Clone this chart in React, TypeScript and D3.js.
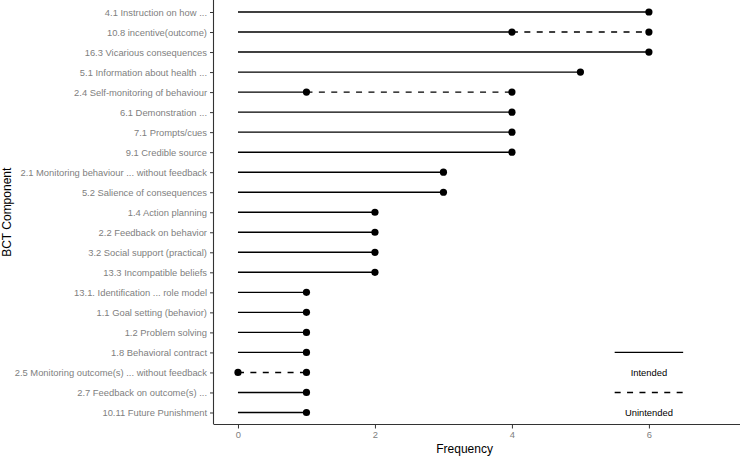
import React, { useEffect, useRef } from "react";
import * as d3 from "d3";

// categories top to bottom
const categories = [
  "4.1 Instruction on how ...",
  "10.8 incentive(outcome)",
  "16.3 Vicarious consequences",
  "5.1 Information about health ...",
  "2.4 Self-monitoring of behaviour",
  "6.1 Demonstration ...",
  "7.1 Prompts/cues",
  "9.1 Credible source",
  "2.1 Monitoring behaviour ... without feedback",
  "5.2 Salience of consequences",
  "1.4 Action planning",
  "2.2 Feedback on behavior",
  "3.2 Social support (practical)",
  "13.3 Incompatible beliefs",
  "13.1. Identification ... role model",
  "1.1 Goal setting (behavior)",
  "1.2 Problem solving",
  "1.8 Behavioral contract",
  "2.5 Monitoring outcome(s) ... without feedback",
  "2.7 Feedback on outcome(s) ... ",
  "10.11 Future Punishment",
];

// intended frequency (solid from 0)
const intended = [6, 4, 6, 5, 1, 4, 4, 4, 3, 3, 2, 2, 2, 2, 1, 1, 1, 1, 0, 1, 1];
// total incl. unintended (dashed from intended), null when none
const withUnintended: (number | null)[] = [
  null, 6, null, null, 4, null, null, null, null, null, null,
  null, null, null, null, null, null, null, 1, null, null,
];

const xTicks = [0, 2, 4, 6];

const App: React.FC = () => {
  const svgRef = useRef<SVGSVGElement | null>(null);
  const width = 740;
  const height = 457;

  useEffect(() => {
    const svg = d3.select(svgRef.current);
    svg.selectAll("*").remove();

    const left = 214;
    const right = 740;
    const top = 0;
    const bottom = 424.5;
    const font = "'Liberation Sans', Arial, sans-serif";
    const dash = "6,6.4";

    const x = d3.scaleLinear().domain([-0.35, 7.33]).range([left, right]);
    const y = d3
      .scalePoint<string>()
      .domain(categories)
      .range([top, bottom])
      .padding(0.6);

    const g = svg.append("g");

    // axes
    const axisX = d3.axisBottom(x).tickValues(xTicks).tickSize(4).tickPadding(3);
    const gx = g.append("g").attr("transform", `translate(0, ${bottom})`).call(axisX);
    const axisY = d3.axisLeft(y).tickSize(4).tickPadding(3);
    const gy = g.append("g").attr("transform", `translate(${left}, 0)`).call(axisY);

    [gx, gy].forEach(a => {
      a.select(".domain").attr("stroke", "#333").attr("stroke-width", 1.1);
      a.selectAll(".tick line").attr("stroke", "#333");
      a.selectAll(".tick text")
        .attr("fill", "#808080")
        .style("font-family", font)
        .style("font-size", "9.4px");
    });
    gy.select(".domain").attr("d", `M-0.5,${top}V${bottom}`);
    gx.select(".domain").attr("d", `M${left},0H${right}`);

    // lines
    categories.forEach((c, i) => {
      const yy = y(c) as number;
      if (intended[i] > 0) {
        g.append("line")
          .attr("x1", x(0))
          .attr("x2", x(intended[i]))
          .attr("y1", yy)
          .attr("y2", yy)
          .attr("stroke", "#000")
          .attr("stroke-width", 1.4);
      }
      const u = withUnintended[i];
      if (u !== null) {
        g.append("line")
          .attr("x1", x(intended[i]))
          .attr("x2", x(u))
          .attr("y1", yy)
          .attr("y2", yy)
          .attr("stroke", "#000")
          .attr("stroke-width", 1.4)
          .attr("stroke-dasharray", dash);
      }
    });

    // points
    categories.forEach((c, i) => {
      const yy = y(c) as number;
      const vals = [intended[i]];
      const u = withUnintended[i];
      if (u !== null) vals.push(u);
      vals.forEach(v => {
        g.append("circle")
          .attr("cx", x(v))
          .attr("cy", yy)
          .attr("r", 3.6)
          .attr("fill", "#000");
      });
    });

    // legend drawn on rows 17-20
    const lg = [
      { row: 17, dashed: false, label: null as string | null },
      { row: 18, dashed: false, label: "Intended" },
      { row: 19, dashed: true, label: null },
      { row: 20, dashed: false, label: "Unintended" },
    ];
    lg.forEach(d => {
      const yy = y(categories[d.row]) as number;
      if (d.label) {
        g.append("text")
          .attr("x", x(6))
          .attr("y", yy)
          .attr("dy", "0.35em")
          .attr("text-anchor", "middle")
          .style("font-family", font)
          .style("font-size", "9.4px")
          .attr("fill", "#000")
          .text(d.label);
      } else {
        g.append("line")
          .attr("x1", x(5.5))
          .attr("x2", x(6.5))
          .attr("y1", yy)
          .attr("y2", yy)
          .attr("stroke", "#000")
          .attr("stroke-width", 1.4)
          .attr("stroke-dasharray", d.dashed ? dash : null);
      }
    });

    // titles
    g.append("text")
      .attr("x", (x(0) + x(6.5)) / 2 + 4)
      .attr("y", 453)
      .attr("text-anchor", "middle")
      .style("font-family", font)
      .style("font-size", "12px")
      .attr("fill", "#000")
      .text("Frequency");

    g.append("text")
      .attr("transform", `translate(11, ${(top + bottom) / 2}) rotate(-90)`)
      .attr("text-anchor", "middle")
      .style("font-family", font)
      .style("font-size", "12px")
      .attr("fill", "#000")
      .text("BCT Component");
  }, []);

  return (
    <svg
      ref={svgRef}
      width={width}
      height={height}
      style={{ position: "absolute", left: 0, top: 0, background: "#fff" }}
    ></svg>
  );
};

export default App;
